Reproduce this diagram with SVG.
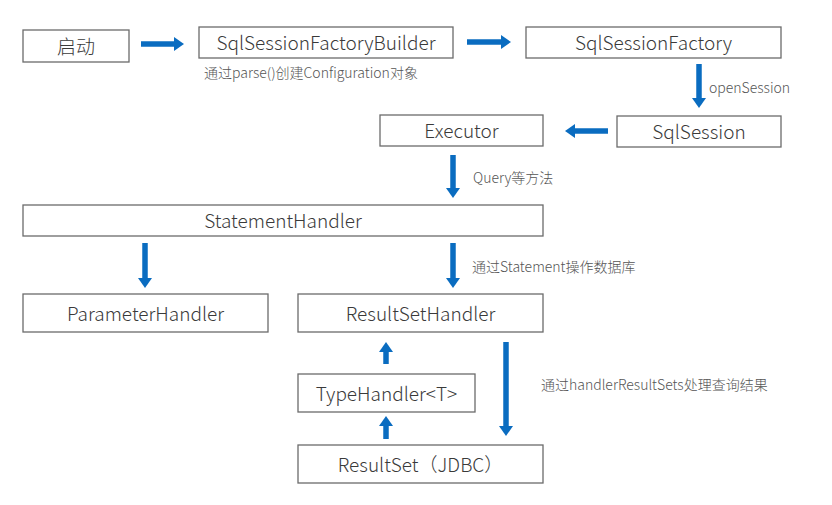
<svg xmlns="http://www.w3.org/2000/svg" width="832" height="505" viewBox="0 0 832 505">
<style>
.box{fill:#fff;stroke:#6b6b6b;stroke-width:1.3}
.t{font-family:"Noto Sans CJK SC","Noto Sans",sans-serif;font-size:19px;font-weight:300;fill:#3a3a3a;text-anchor:middle;dominant-baseline:central}
.n{font-family:"Noto Sans CJK SC","Noto Sans",sans-serif;font-size:14px;font-weight:300;fill:#555;dominant-baseline:central}
.a{stroke:#0a6cc0;stroke-width:5.5;fill:none;marker-end:url(#ah)}
</style>
<defs>
<marker id="ah" viewBox="0 0 10 14" refX="1" refY="7" markerWidth="10" markerHeight="14" markerUnits="userSpaceOnUse" orient="auto">
<path d="M0,0 L10,7 L0,14 z" fill="#0a6cc0"/>
</marker>
</defs>
<rect width="832" height="505" fill="#fff"/>
<g id="start"><rect class="box" x="23" y="30" width="106" height="32"/><text class="t" x="76" y="45">启动</text></g>
<g id="builder"><rect class="box" x="199" y="27" width="254" height="31"/><text class="t" x="326" y="41.5">SqlSessionFactoryBuilder</text></g>
<g id="factory"><rect class="box" x="526" y="27" width="255" height="31"/><text class="t" x="653.5" y="41.5">SqlSessionFactory</text></g>
<g id="sqlsession"><rect class="box" x="617" y="116" width="164" height="31"/><text class="t" x="699" y="130.5">SqlSession</text></g>
<g id="executor"><rect class="box" x="380" y="115" width="163" height="31"/><text class="t" x="461.5" y="129.5">Executor</text></g>
<g id="statement"><rect class="box" x="23" y="205" width="520" height="31"/><text class="t" x="283" y="219.5">StatementHandler</text></g>
<g id="parameter"><rect class="box" x="23" y="294" width="245" height="38"/><text class="t" x="145.5" y="312">ParameterHandler</text></g>
<g id="resultsethandler"><rect class="box" x="298" y="294" width="245" height="38"/><text class="t" x="420.5" y="312">ResultSetHandler</text></g>
<g id="typehandler"><rect class="box" x="298" y="374" width="177" height="38"/><text class="t" x="386.5" y="392">TypeHandler&lt;T&gt;</text></g>
<g id="resultset"><rect class="box" x="298" y="445" width="245" height="38"/><text class="t" x="420.5" y="463">ResultSet（JDBC）</text></g>
<g id="connectors">
<line class="a" x1="141" y1="44" x2="175" y2="44"/>
<line class="a" x1="467" y1="42" x2="502" y2="42"/>
<line class="a" x1="699" y1="64" x2="699" y2="99"/>
<line class="a" x1="608" y1="131" x2="574" y2="131"/>
<line class="a" x1="453" y1="155" x2="453" y2="189"/>
<line class="a" x1="145" y1="243" x2="145" y2="279"/>
<line class="a" x1="453" y1="243" x2="453" y2="279"/>
<line class="a" x1="386" y1="364" x2="386" y2="351"/>
<line class="a" x1="386" y1="439" x2="386" y2="425"/>
<line class="a" x1="506" y1="342" x2="506" y2="427"/>
</g>
<g id="labels">
<text class="n" x="204" y="72">通过parse()创建Configuration对象</text>
<text class="n" x="709" y="87">openSession</text>
<text class="n" x="473" y="177">Query等方法</text>
<text class="n" x="472" y="266">通过Statement操作数据库</text>
<text class="n" x="541" y="384">通过handlerResultSets处理查询结果</text>
</g>
</svg>
